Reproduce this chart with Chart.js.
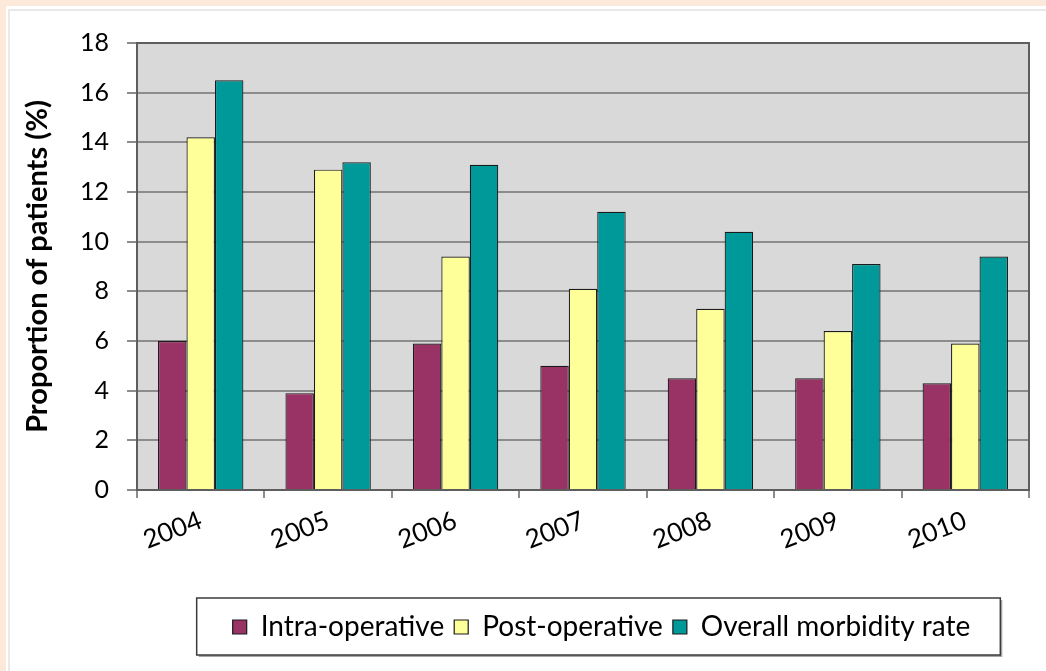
<!DOCTYPE html>
<html>
<head>
<meta charset="utf-8">
<script src="https://cdn.jsdelivr.net/npm/chart.js@4.4.0/dist/chart.umd.min.js"></script>
<style>
  html, body { margin: 0; padding: 0; }
  body { width: 1046px; height: 671px; background: #fde9d9; position: relative; overflow: hidden; }
  #frame { position: absolute; left: 6px; top: 6px; right: 0; bottom: 0; background: #fff; }
  #inner { position: absolute; left: 2px; top: 3px; right: 0; bottom: 0; border-left: 2px solid #e9e9e9; border-top: 2px solid #e9e9e9; }
  #wrap { position: absolute; left: 0; top: 0; width: 1046px; height: 671px; }
</style>
</head>
<body>
<div id="frame"><div id="inner"></div></div>
<div id="wrap"><canvas id="chart" width="1046" height="671"></canvas></div>
<script>
const years = ['2004', '2005', '2006', '2007', '2008', '2009', '2010'];
const intraOperative = [6.0, 3.9, 5.9, 5.0, 4.5, 4.5, 4.3];
const postOperative = [14.2, 12.9, 9.4, 8.1, 7.3, 6.4, 5.9];
const overallMorbidity = [16.5, 13.2, 13.1, 11.2, 10.4, 9.1, 9.4];
const seriesNames = ['Intra-operative', 'Post-operative', 'Overall morbidity rate'];
const yMin = 0, yMax = 18, yStep = 2;

const legendShift = 82;

const plotStyle = {
  id: 'plotStyle',
  beforeDraw(chart) {
    const { ctx, chartArea: a } = chart;
    ctx.save();
    ctx.fillStyle = '#d9d9d9';
    ctx.fillRect(a.left, a.top, a.right - a.left, a.bottom - a.top);
    ctx.restore();
  },
  afterLayout(chart) {
    const lg = chart.legend;
    lg.left += legendShift;
    lg.right += legendShift;
  },
  afterDatasetsDraw(chart) {
    const { ctx, chartArea: a } = chart;
    ctx.save();
    ctx.strokeStyle = '#5e5e5e';
    ctx.lineWidth = 2;
    ctx.strokeRect(a.left, a.top, a.right - a.left, a.bottom - a.top);
    ctx.restore();
  },
  afterDraw(chart) {
    const lg = chart.legend;
    const pad = lg.options.labels.padding;
    const w = lg.lineWidths[0];
    const start = (lg.left + pad + lg.right - w) / 2;
    const x0 = start - 36;
    const x1 = start + w + 20;
    const y0 = lg.top - 5, y1 = lg.top + 52;
    const ctx = chart.ctx;
    ctx.save();
    ctx.fillStyle = 'rgba(0,0,0,0.35)';
    ctx.fillRect(x0 + 2, y0 + 2, x1 - x0, y1 - y0);
    ctx.fillStyle = '#fff';
    ctx.fillRect(x0, y0, x1 - x0, y1 - y0);
    ctx.strokeStyle = '#3c3c3c';
    ctx.lineWidth = 1.5;
    ctx.strokeRect(x0, y0, x1 - x0, y1 - y0);
    ctx.restore();
    lg.draw();
  }
};

const ctx = document.getElementById('chart').getContext('2d');
new Chart(ctx, {
  type: 'bar',
  data: {
    labels: years,
    datasets: [
      { label: seriesNames[0], data: intraOperative, backgroundColor: '#993366', borderColor: '#1a1a1a', borderWidth: 1.2 },
      { label: seriesNames[1], data: postOperative, backgroundColor: '#ffff99', borderColor: '#1a1a1a', borderWidth: 1.2 },
      { label: seriesNames[2], data: overallMorbidity, backgroundColor: '#009999', borderColor: '#1a1a1a', borderWidth: 1.2 }
    ]
  },
  options: {
    responsive: false,
    animation: false,
    devicePixelRatio: 1,
    layout: { padding: { left: 10, right: 17, top: 43, bottom: 20 } },
    datasets: { bar: { categoryPercentage: 0.67, barPercentage: 1 } },
    plugins: {
      tooltip: { enabled: false },
      legend: {
        position: 'bottom',
        labels: {
          font: { family: 'Lato', size: 28 },
          color: '#000',
          boxWidth: 14,
          boxHeight: 14,
          padding: 10
        }
      }
    },
    scales: {
      x: {
        afterFit: s => { s.height = 113; },
        border: { display: false },
        grid: { offset: true, drawOnChartArea: false, color: '#8c8c8c', lineWidth: 2, tickLength: 8 },
        ticks: {
          font: { family: 'Lato', size: 26 },
          color: '#000',
          minRotation: 21,
          maxRotation: 21,
          padding: 7
        }
      },
      y: {
        min: yMin,
        max: yMax,
        afterFit: s => { s.width = 127; },
        border: { display: false },
        grid: { color: '#8c8c8c', lineWidth: 2, tickLength: 10 },
        ticks: {
          stepSize: yStep,
          font: { family: 'Lato', size: 25 },
          color: '#000',
          padding: 18
        },
        title: {
          display: true,
          text: 'Proportion of patients (%)',
          font: { family: 'Lato', size: 29, weight: 'bold' },
          color: '#000',
          padding: { top: 10, bottom: 0 }
        }
      }
    }
  },
  plugins: [plotStyle]
});
</script>
</body>
</html>
